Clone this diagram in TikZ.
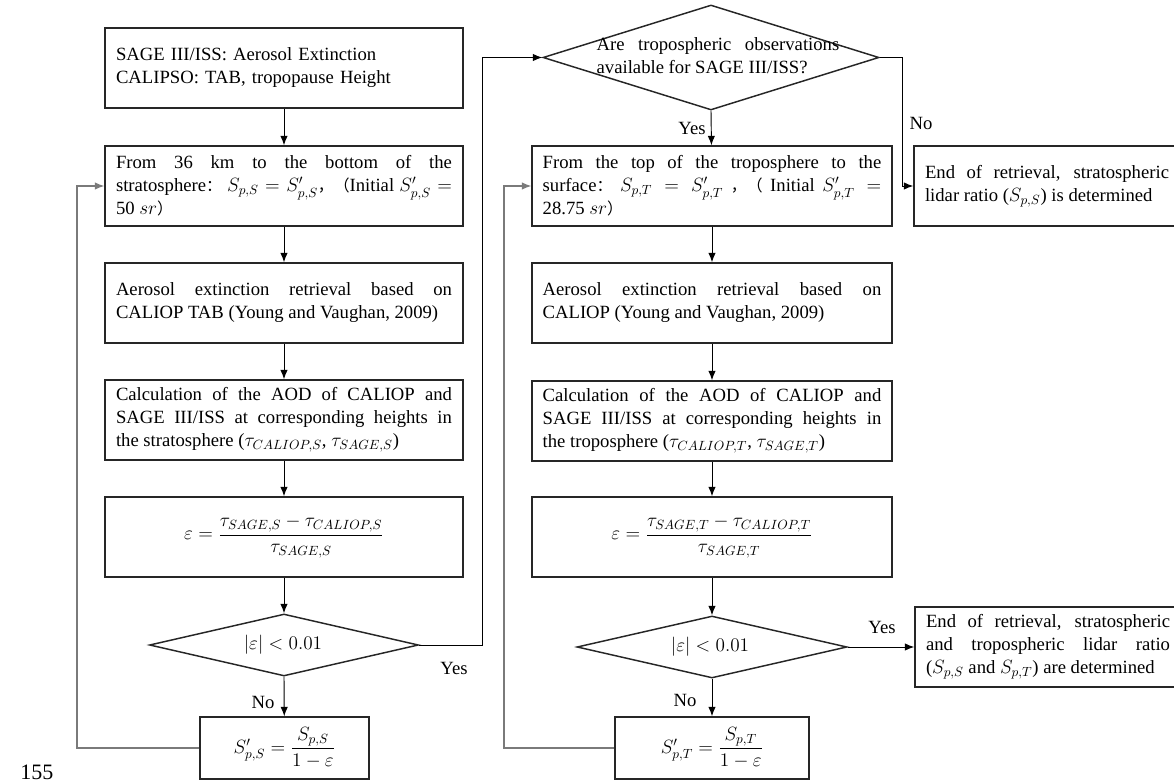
\documentclass[tikz,border=0pt]{standalone}
\usepackage{amsmath}
\usepackage{fontspec}
\setmainfont{Liberation Serif}
\newfontfamily\cjk[Scale=0.85]{Noto Sans CJK SC}
\usetikzlibrary{shapes.geometric,arrows.meta}
\definecolor{boxc}{HTML}{262626}
\definecolor{loopc}{HTML}{7A7A7A}
\begin{document}
\tolerance=10000
\relpenalty=10000
\binoppenalty=10000
\begin{tikzpicture}[x=0.75pt,y=-0.75pt,
  every node/.style={font=\fontsize{14}{17.25}\selectfont},
  box/.style={draw=boxc, line width=1.1pt, minimum height=60pt, inner xsep=8.25pt, inner ysep=2pt, text width=252pt, align=justify},
  rbox/.style={box, text width=254pt, inner xsep=8pt},
  ebox/.style={draw=boxc, line width=1.1pt, minimum height=60pt, inner xsep=8.25pt, inner ysep=2pt, text width=183pt, align=justify},
  fbox/.style={draw=boxc, line width=1.1pt, minimum height=46.5pt, align=center, inner sep=2pt},
  dia/.style={draw=boxc, line width=1.1pt, shape=diamond, inner sep=0pt},
  arr/.style={draw=black, line width=0.7pt, -{Latex[length=7pt,width=5.5pt]}},
  loop/.style={draw=loopc, line width=0.8pt, -{Latex[length=7pt,width=5.5pt]}},
  lbl/.style={inner sep=0pt}
]
\useasboundingbox (0,0) rectangle (1174,780);

% left column
\node[box, align=left] (B1) at (284,68) {SAGE III/ISS: Aerosol Extinction\\CALIPSO: TAB, tropopause Height};
\node[box] (B2) at (284,186) {From 36 km to the bottom of the\linebreak stratosphere{\cjk ：} $S_{p,S}=S'_{p,S}${\cjk ，（}Initial $S'_{p,S}=$\linebreak 50 $sr${\cjk ）}};
\node[box] (B3) at (284,303) {Aerosol extinction retrieval based on\linebreak CALIOP TAB (Young and Vaughan, 2009)};
\node[box] (B4) at (284,420) {Calculation of the AOD of CALIOP and\linebreak SAGE III/ISS at corresponding heights in\linebreak the stratosphere ($\tau_{CALIOP,S}$, $\tau_{SAGE,S}$)};
\node[box, align=flush center] (B5) at (284,537) {$\varepsilon=\dfrac{\tau_{SAGE,S}-\tau_{CALIOP,S}}{\tau_{SAGE,S}}$};
\node[dia, minimum width=201.75pt, minimum height=46.5pt, aspect=4.3] (DL) at (284,645) {};
\node[lbl] (DLt) at (283,645) {$|\varepsilon|<0.01$};
\node[fbox, minimum width=126.75pt] (FL) at (284.5,748) {$S'_{p,S}=\dfrac{S_{p,S}}{1-\varepsilon}$};

% right column
\node[dia, minimum width=252pt, minimum height=78.75pt, aspect=3.2] (DT) at (711,57.5) {};
\node[lbl, text width=182pt, align=justify] (DTt) at (718,56) {Are tropospheric observations\linebreak available for SAGE III/ISS?};
\node[rbox] (R1) at (712,186) {From the top of the troposphere to the\linebreak surface{\cjk ：} $S_{p,T}=S'_{p,T}$ {\cjk ，（} Initial $S'_{p,T}=$\linebreak 28.75 $sr${\cjk ）}};
\node[rbox] (R2) at (712,303) {Aerosol extinction retrieval based on\linebreak CALIOP (Young and Vaughan, 2009)};
\node[rbox] (R3) at (712,421) {Calculation of the AOD of CALIOP and\linebreak SAGE III/ISS at corresponding heights in\linebreak the troposphere ($\tau_{CALIOP,T}$, $\tau_{SAGE,T}$)};
\node[rbox, align=flush center] (R4) at (712,537) {$\varepsilon=\dfrac{\tau_{SAGE,T}-\tau_{CALIOP,T}}{\tau_{SAGE,T}}$};
\node[dia, minimum width=202.5pt, minimum height=46.5pt, aspect=4.3] (DR) at (712,647) {};
\node[lbl] (DRt) at (710,647) {$|\varepsilon|<0.01$};
\node[fbox, minimum width=145.5pt] (FR) at (712,748) {$S'_{p,T}=\dfrac{S_{p,T}}{1-\varepsilon}$};

% end boxes
\node[ebox] (E1) at (1047,186) {End of retrieval, stratospheric\linebreak lidar ratio ($S_{p,S}$) is determined};
\node[ebox] (E2) at (1048,647) {End of retrieval, stratospheric\linebreak and tropospheric lidar ratio\linebreak ($S_{p,S}$ and $S_{p,T}$) are determined};

% labels
\node[lbl] (nL) at (263,702) {No};
\node[lbl] (yL) at (454,668) {Yes};
\node[lbl] (yT) at (692,128) {Yes};
\node[lbl] (nT) at (921,123) {No};
\node[lbl] (nR) at (685,700) {No};
\node[lbl] (yR) at (882,627) {Yes};
\node[lbl, anchor=base west, font=\fontsize{16.5}{18}\selectfont] (pg) at (20,779) {155};

% coordinates
\coordinate (lloop) at (77,748);
\coordinate (rloop) at (504,748);
\coordinate (yesturn) at (482,645);
\coordinate (noturn) at (902,57.5);

% connectors
\draw[arr] (B1) -- (B2);
\draw[arr] (B2) -- (B3);
\draw[arr] (B3) -- (B4);
\draw[arr] (B4) -- (B5);
\draw[arr] (B5) -- (DL.north);
\draw[arr] (DL.south) -- (FL);
\draw[loop] (FL.west) -- (lloop) |- (B2.west);
\draw[arr] (DL.east) -- (yesturn) |- (DT.west);
\draw[arr] (DT.south) -- (R1);
\draw[arr] (DT.east) -- (noturn) |- (E1.west);
\draw[arr] (R1) -- (R2);
\draw[arr] (R2) -- (R3);
\draw[arr] (R3) -- (R4);
\draw[arr] (R4) -- (DR.north);
\draw[arr] (DR.south) -- (FR);
\draw[loop] (FR.west) -- (rloop) |- (R1.west);
\draw[arr] (DR.east) -- (E2.west);
\end{tikzpicture}
\end{document}
